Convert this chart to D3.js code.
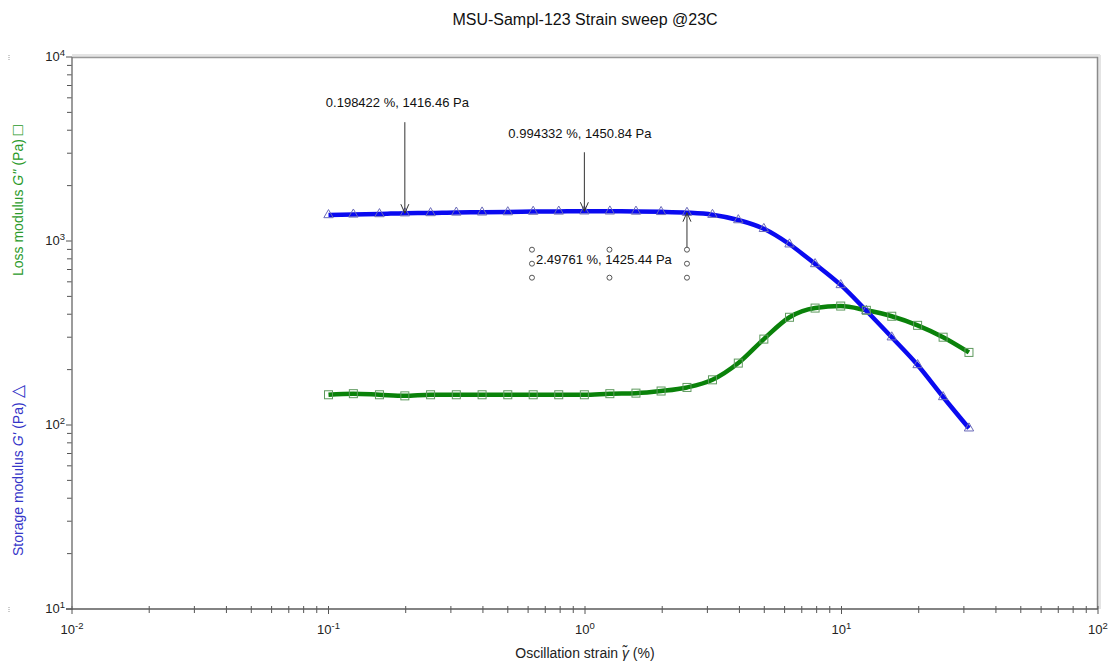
<!DOCTYPE html>
<html>
<head>
<meta charset="utf-8">
<script src="https://cdn.jsdelivr.net/npm/d3@7"></script>
<style>
  html, body { margin: 0; padding: 0; background: #fff; }
  svg { display: block; font-family: "Liberation Sans", Arial, sans-serif; }
</style>
</head>
<body>
<svg id="chart" width="1110" height="664"></svg>
<script>
// Strain sweep at 23 C: oscillation strain (%) and moduli (Pa)
const strain = [0.1, 0.125, 0.158, 0.198422, 0.25, 0.315, 0.397, 0.5, 0.628, 0.79,
  0.994332, 1.25, 1.58, 1.98, 2.49761, 3.14, 3.96, 4.98, 6.27, 7.89,
  9.93, 12.5, 15.7, 19.8, 24.9, 31.4];
const storageModulus = [1385, 1395, 1402, 1416.46, 1420, 1430, 1432, 1436, 1445, 1448,
  1450.84, 1450, 1447, 1440, 1425.44, 1390, 1300, 1165, 960, 750,
  577, 418, 300, 212, 142, 96];
const lossModulus = [146, 148, 146, 144, 146, 146, 146, 146, 146, 146,
  146, 148, 149, 153, 160, 176, 217, 293, 385, 432,
  443, 420, 390, 348, 300, 248];

// Point labels attached to the storage modulus curve
const annotationStrain = [0.198422, 0.994332, 2.49761];
const annotationValue = [1416.46, 1450.84, 1425.44];
const annotationText = ["0.198422 %, 1416.46 Pa", "0.994332 %, 1450.84 Pa", "2.49761 %, 1425.44 Pa"];

const xDomain = [0.01, 100];
const yDomain = [10, 10000];
const xTickExp = [-2, -1, 0, 1, 2];
const yTickExp = [1, 2, 3, 4];

const svg = d3.select("#chart");
const plotL = 72, plotR = 1098, plotT = 57, plotB = 609;

const x = d3.scaleLog().domain(xDomain).range([plotL, plotR]);
const y = d3.scaleLog().domain(yDomain).range([plotB, plotT]);

// Title
svg.append("text")
  .attr("x", (plotL + plotR) / 2).attr("y", 25)
  .attr("text-anchor", "middle")
  .attr("font-size", 16).attr("fill", "#111")
  .text("MSU-Sampl-123 Strain sweep @23C");

// Plot frame: shaded top and right edges
svg.append("line").attr("x1", plotL).attr("x2", plotR + 2).attr("y1", plotT - 1).attr("y2", plotT - 1)
  .attr("stroke", "#e4e4e4").attr("stroke-width", 4);
svg.append("line").attr("x1", plotR + 1).attr("x2", plotR + 1).attr("y1", plotT - 2).attr("y2", plotB)
  .attr("stroke", "#e4e4e4").attr("stroke-width", 4);
svg.append("line").attr("x1", plotL).attr("x2", plotR).attr("y1", plotT + 0.5).attr("y2", plotT + 0.5)
  .attr("stroke", "#9a9a9a").attr("stroke-width", 1.5);
svg.append("line").attr("x1", plotR - 0.5).attr("x2", plotR - 0.5).attr("y1", plotT).attr("y2", plotB)
  .attr("stroke", "#8a8a8a").attr("stroke-width", 1.5);

// Minor and major ticks of log axes
function logTicks(domain) {
  const out = [];
  for (let e = Math.log10(domain[0]); e < Math.log10(domain[1]); e++) {
    for (let m = 1; m < 10; m++) out.push({ v: m * Math.pow(10, e), major: m === 1 });
  }
  out.push({ v: domain[1], major: true });
  return out;
}

const gx = svg.append("g");
logTicks(xDomain).forEach(t => {
  gx.append("line")
    .attr("x1", x(t.v)).attr("x2", x(t.v))
    .attr("y1", plotB - 3).attr("y2", plotB + (t.major ? 5 : 4))
    .attr("stroke", "#555").attr("stroke-width", 1);
});
const gy = svg.append("g");
logTicks(yDomain).forEach(t => {
  gy.append("line")
    .attr("x1", plotL - (t.major ? 6 : 5)).attr("x2", plotL)
    .attr("y1", y(t.v)).attr("y2", y(t.v))
    .attr("stroke", "#555").attr("stroke-width", 1);
});

// Axis lines
svg.append("line").attr("x1", plotL).attr("x2", plotL).attr("y1", plotT).attr("y2", plotB + 1)
  .attr("stroke", "#7a7a7a").attr("stroke-width", 1.5);
svg.append("line").attr("x1", plotL - 6).attr("x2", plotR).attr("y1", plotB).attr("y2", plotB)
  .attr("stroke", "#5a5a5a").attr("stroke-width", 1.5);

// Power-of-ten tick labels
function powLabel(sel, exp) {
  sel.append("tspan").text("10");
  sel.append("tspan").attr("font-size", 9.5).attr("dy", -5).text(String(exp));
}
xTickExp.forEach(e => {
  const t = svg.append("text")
    .attr("x", x(Math.pow(10, e))).attr("y", 634)
    .attr("text-anchor", "middle")
    .attr("font-size", 13).attr("fill", "#222");
  powLabel(t, e);
});
yTickExp.forEach(e => {
  const t = svg.append("text")
    .attr("x", plotL - 7).attr("y", y(Math.pow(10, e)) + 4)
    .attr("text-anchor", "end")
    .attr("font-size", 13).attr("fill", "#222");
  powLabel(t, e);
});

// Axis titles
const xt = svg.append("text")
  .attr("x", (plotL + plotR) / 2).attr("y", 658)
  .attr("text-anchor", "middle").attr("font-size", 14).attr("fill", "#222");
xt.append("tspan").text("Oscillation strain ");
xt.append("tspan").attr("font-style", "italic").text("\u03B3\u0303");
xt.append("tspan").text("  (%)");

const yBlue = svg.append("text")
  .attr("transform", "translate(23,556) rotate(-90)")
  .attr("font-size", 14).attr("fill", "#3535c8");
yBlue.append("tspan").text("Storage modulus ");
yBlue.append("tspan").attr("font-style", "italic").text("G'");
yBlue.append("tspan").text("  (Pa) ");
yBlue.append("tspan").attr("font-size", 17).text("\u25B3");

const yGreen = svg.append("text")
  .attr("transform", "translate(23,276) rotate(-90)")
  .attr("font-size", 14).attr("fill", "#2a9a2a");
yGreen.append("tspan").text("Loss modulus ");
yGreen.append("tspan").attr("font-style", "italic").text("G''");
yGreen.append("tspan").text("  (Pa) ");
yGreen.append("tspan").attr("font-size", 17).text("\u25A1");

// Small dotted corner marks
[[9, 55], [9, 607]].forEach(p => {
  svg.append("line").attr("x1", p[0]).attr("x2", p[0]).attr("y1", p[1]).attr("y2", p[1] + 6)
    .attr("stroke", "#999").attr("stroke-width", 1).attr("stroke-dasharray", "1,1");
});

// Curves
const line = d3.line().curve(d3.curveMonotoneX);
const storagePts = strain.map((s, i) => [x(s), y(storageModulus[i])]);
const lossPts = strain.map((s, i) => [x(s), y(lossModulus[i])]);

svg.append("path").attr("d", line(lossPts))
  .attr("fill", "none").attr("stroke", "#0a820a").attr("stroke-width", 4.5)
  .attr("stroke-linejoin", "round");
svg.append("path").attr("d", line(storagePts))
  .attr("fill", "none").attr("stroke", "#0a0af0").attr("stroke-width", 4.5)
  .attr("stroke-linejoin", "round");

// Markers
const tri = d3.symbol().type(d3.symbolTriangle).size(38);
svg.append("g").selectAll("path").data(storagePts).join("path")
  .attr("transform", d => `translate(${d[0]},${d[1]})`)
  .attr("d", tri)
  .attr("fill", "none").attr("stroke", "#6a6ab8").attr("stroke-width", 1);
svg.append("g").selectAll("rect").data(lossPts).join("rect")
  .attr("x", d => d[0] - 4).attr("y", d => d[1] - 4)
  .attr("width", 8).attr("height", 8)
  .attr("fill", "none").attr("stroke", "#5f9a5f").attr("stroke-width", 1);

// Annotations with arrows
const labelOffset = [[-79, -106], [-76, -73], [-151, 51]];
const arrowStart = [-91, -59, 37];

function arrowHead(g, px, py, dir) {
  // open V head pointing at (px, py); dir = 1 points down, -1 points up
  g.append("path")
    .attr("d", `M${px - 4},${py - dir * 9} L${px},${py} L${px + 4},${py - dir * 9}`)
    .attr("fill", "none").attr("stroke", "#333").attr("stroke-width", 1);
}

annotationStrain.forEach((s, i) => {
  const px = x(s), py = y(annotationValue[i]);
  const g = svg.append("g");
  const dir = arrowStart[i] < 0 ? 1 : -1;
  g.append("line")
    .attr("x1", px).attr("x2", px)
    .attr("y1", py + arrowStart[i]).attr("y2", py)
    .attr("stroke", "#333").attr("stroke-width", 1);
  arrowHead(g, px, py, dir);
  g.append("text")
    .attr("x", px + labelOffset[i][0]).attr("y", py + labelOffset[i][1])
    .attr("font-size", 13).attr("fill", "#111")
    .text(annotationText[i]);
});

// Selection handles around the third annotation label
{
  const px = x(annotationStrain[2]), py = y(annotationValue[2]);
  const x0 = px - 155, x1 = px, yTop = py + 37, yBot = py + 65;
  const hx = [x0, (x0 + x1) / 2, x1], hy = [yTop, (yTop + yBot) / 2, yBot];
  hy.forEach((yy, r) => hx.forEach((xx, c) => {
    if (r === 1 && c === 1) return;
    svg.append("circle").attr("cx", xx).attr("cy", yy).attr("r", 2.5)
      .attr("fill", "#fff").attr("stroke", "#555").attr("stroke-width", 1);
  }));
}
</script>
</body>
</html>
